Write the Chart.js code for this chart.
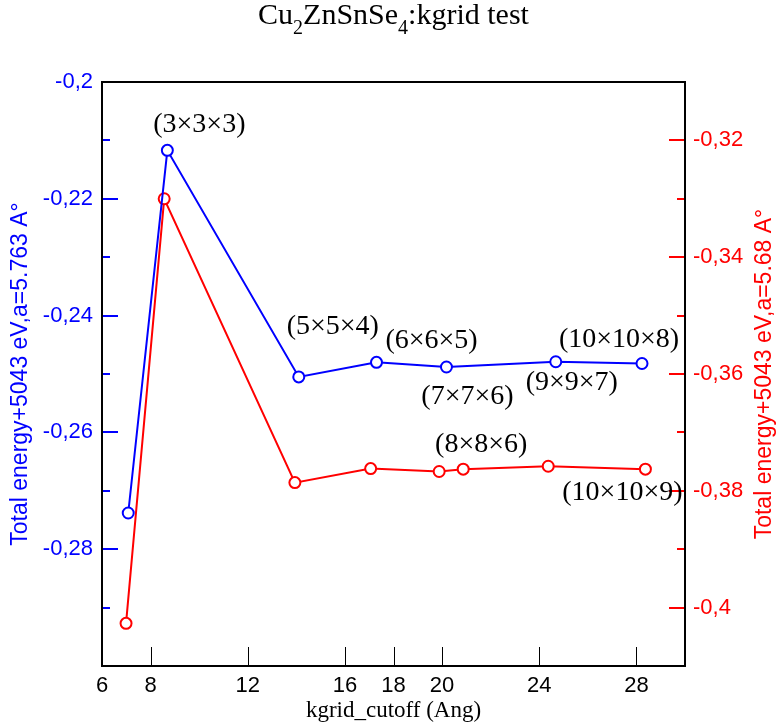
<!DOCTYPE html>
<html>
<head>
<meta charset="utf-8">
<title>Cu2ZnSnSe4 kgrid test</title>
<script src="https://cdn.jsdelivr.net/npm/chart.js@4.4.0/dist/chart.umd.min.js"></script>
<style>
  html, body { margin: 0; padding: 0; background: #fff; }
  #wrap { width: 776px; height: 728px; }
</style>
</head>
<body>
<div id="wrap"><canvas id="js-chartjs-kgrid"></canvas></div>
<script>
// Values
const cutoffA = [7.08, 8.69, 14.1, 17.3, 20.18, 24.68, 28.23];
const energyA = [-0.2738, -0.2117, -0.2505, -0.2480, -0.2488, -0.2479, -0.2482];
const kgridA = ['', '(3×3×3)', '(5×5×4)', '(6×6×5)', '(7×7×6)', '(9×9×7)', '(10×10×8)'];

const cutoffB = [6.99, 8.56, 13.94, 17.06, 19.88, 20.87, 24.37, 28.37];
const energyB = [-0.4027, -0.3300, -0.3786, -0.3762, -0.3767, -0.3763, -0.3758, -0.3763];
const kgridB = ['', '', '', '', '(8×8×6)', '', '', '(10×10×9)'];

const xTicks = [6, 8, 12, 16, 18, 20, 24, 28];
const yTicksLeft = [-0.2, -0.22, -0.24, -0.26, -0.28];
const yTicksRight = [-0.32, -0.34, -0.36, -0.38, -0.4];

// Label placement relative to its point (px)
const labelShiftA = [null, [32, -26], [34, -50], [55, -22], [21, 30], [16, 21], [-23, -24]];
const labelShiftB = [null, null, null, null, [42, -27], null, null, [-23, 23]];

const BLUE = '#0000ff';
const RED = '#ff0000';
const SANS = '"Liberation Sans", Arial, sans-serif';
const SERIF = '"Liberation Serif", "Times New Roman", serif';

function comma(v) {
  return String(Math.round(v * 1000) / 1000).replace('.', ',');
}

// Inside tick marks, frame, titles and point labels
const decorPlugin = {
  id: 'decor',
  beforeDatasetsDraw(chart) {
    const ctx = chart.ctx;
    const a = chart.chartArea;
    const sx = chart.scales.x, sy = chart.scales.y, sy2 = chart.scales.y2;
    ctx.save();

    ctx.strokeStyle = '#000';
    ctx.lineWidth = 1;
    xTicks.forEach(v => {
      const px = Math.round(sx.getPixelForValue(v)) + 0.5;
      ctx.beginPath();
      ctx.moveTo(px, a.bottom);
      ctx.lineTo(px, a.bottom - 19);
      ctx.stroke();
    });

    ctx.lineWidth = 2;
    ctx.strokeStyle = BLUE;
    for (let k = 20; k <= 30; k++) {
      const py = Math.round(sy.getPixelForValue(-k / 100));
      const len = k % 2 === 0 ? 16 : 8;
      ctx.beginPath();
      ctx.moveTo(a.left, py);
      ctx.lineTo(a.left + len, py);
      ctx.stroke();
    }
    ctx.strokeStyle = RED;
    for (let k = 31; k <= 41; k++) {
      const py = Math.round(sy2.getPixelForValue(-k / 100));
      const len = k % 2 === 0 ? 16 : 8;
      ctx.beginPath();
      ctx.moveTo(a.right, py);
      ctx.lineTo(a.right - len, py);
      ctx.stroke();
    }

    ctx.strokeStyle = '#000';
    ctx.lineWidth = 2;
    ctx.strokeRect(a.left, a.top, a.right - a.left, a.bottom - a.top);
    ctx.restore();
  },
  afterDraw(chart) {
    const ctx = chart.ctx;
    const a = chart.chartArea;
    const cx = (a.left + a.right) / 2;
    const cy = (a.top + a.bottom) / 2;
    ctx.save();

    // title with subscripts
    const parts = [['Cu', 0], ['2', 1], ['ZnSnSe', 0], ['4', 1], [':kgrid test', 0]];
    const big = '30px ' + SERIF, small = '20px ' + SERIF;
    let total = 0;
    parts.forEach(p => { ctx.font = p[1] ? small : big; total += ctx.measureText(p[0]).width; });
    let tx = cx - total / 2;
    ctx.fillStyle = '#000';
    ctx.textAlign = 'left';
    ctx.textBaseline = 'alphabetic';
    parts.forEach(p => {
      ctx.font = p[1] ? small : big;
      ctx.fillText(p[0], tx, p[1] ? 34 : 24);
      tx += ctx.measureText(p[0]).width;
    });

    // x axis title
    ctx.font = '23px ' + SERIF;
    ctx.textAlign = 'center';
    ctx.textBaseline = 'middle';
    ctx.fillText('kgrid_cutoff (Ang)', cx, 711);

    // y axis titles, both read bottom to top
    ctx.font = '23px ' + SANS;
    ctx.fillStyle = BLUE;
    ctx.save();
    ctx.translate(21, cy);
    ctx.rotate(-Math.PI / 2);
    ctx.fillText('Total energy+5043 eV,a=5.763 A°', 0, 0);
    ctx.restore();
    ctx.fillStyle = RED;
    ctx.save();
    ctx.translate(765, cy);
    ctx.rotate(-Math.PI / 2);
    ctx.fillText('Total energy+5043 eV,a=5.68 A°', 0, 0);
    ctx.restore();

    // k-grid labels next to points
    ctx.font = '28px ' + SERIF;
    ctx.fillStyle = '#000';
    [[0, kgridA, labelShiftA], [1, kgridB, labelShiftB]].forEach(([di, texts, shifts]) => {
      const pts = chart.getDatasetMeta(di).data;
      texts.forEach((t, i) => {
        if (!t) return;
        ctx.fillText(t, pts[i].x + shifts[i][0], pts[i].y + shifts[i][1]);
      });
    });
    ctx.restore();
  }
};

const chartKgrid = new Chart(document.getElementById('js-chartjs-kgrid'), {
  type: 'scatter',
  data: {
    datasets: [
      {
        label: 'a=5.763',
        data: cutoffA.map((x, i) => ({ x: x, y: energyA[i] })),
        yAxisID: 'y',
        showLine: true,
        borderColor: BLUE,
        borderWidth: 2,
        pointRadius: 5.5,
        pointBorderWidth: 2,
        pointBackgroundColor: '#fff',
        pointBorderColor: BLUE
      },
      {
        label: 'a=5.68',
        data: cutoffB.map((x, i) => ({ x: x, y: energyB[i] })),
        yAxisID: 'y2',
        showLine: true,
        borderColor: RED,
        borderWidth: 2,
        pointRadius: 5.5,
        pointBorderWidth: 2,
        pointBackgroundColor: '#fff',
        pointBorderColor: RED
      }
    ]
  },
  options: {
    responsive: true,
    maintainAspectRatio: false,
    animation: false,
    layout: { padding: { top: 82, left: 0, right: 0, bottom: 0 } },
    scales: {
      x: {
        type: 'linear',
        min: 6,
        max: 30,
        afterBuildTicks: s => { s.ticks = xTicks.map(v => ({ value: v })); },
        afterFit: s => { s.height = 62; },
        grid: { drawOnChartArea: false, drawTicks: false },
        border: { display: false },
        ticks: {
          autoSkip: false,
          maxRotation: 0,
          padding: 7,
          color: '#000',
          font: { family: SANS, size: 22 }
        }
      },
      y: {
        position: 'left',
        min: -0.3,
        max: -0.2,
        afterBuildTicks: s => { s.ticks = yTicksLeft.map(v => ({ value: v })); },
        afterFit: s => { s.width = 102; },
        grid: { drawOnChartArea: false, drawTicks: false },
        border: { display: false },
        ticks: {
          autoSkip: false,
          padding: 9,
          color: BLUE,
          font: { family: SANS, size: 22 },
          callback: v => comma(v)
        }
      },
      y2: {
        position: 'right',
        min: -0.41,
        max: -0.31,
        afterBuildTicks: s => { s.ticks = yTicksRight.map(v => ({ value: v })); },
        afterFit: s => { s.width = 91; },
        grid: { drawOnChartArea: false, drawTicks: false },
        border: { display: false },
        ticks: {
          autoSkip: false,
          padding: 8,
          color: RED,
          font: { family: SANS, size: 22 },
          callback: v => comma(v)
        }
      }
    },
    plugins: {
      legend: { display: false },
      tooltip: { enabled: false }
    }
  },
  plugins: [decorPlugin]
});
</script>
</body>
</html>
